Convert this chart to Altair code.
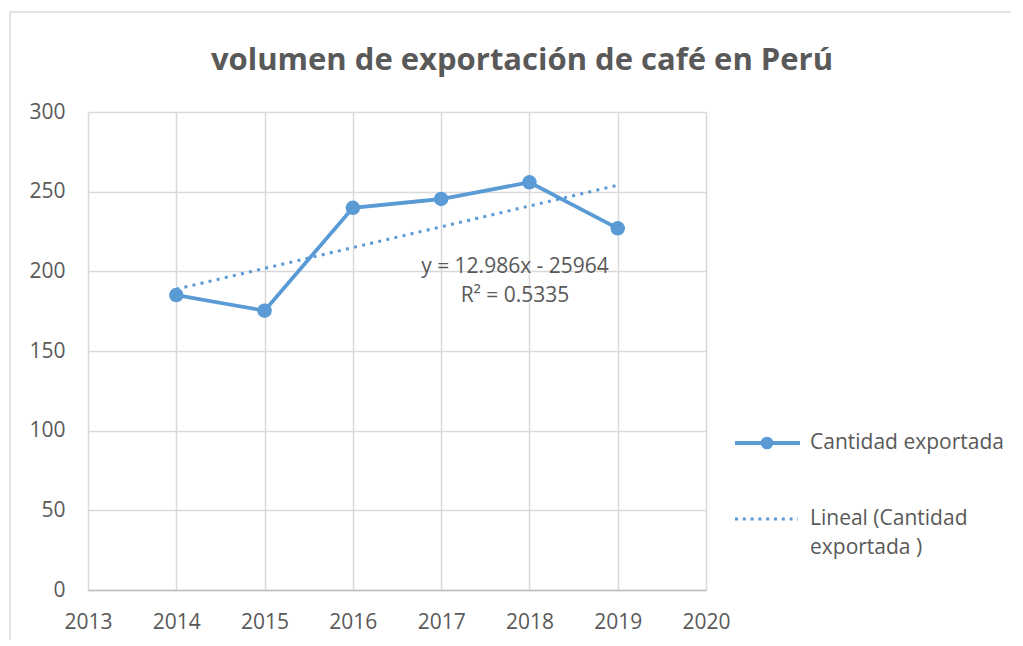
import altair as alt
import pandas as pd

# ---- data ----
years = [2014, 2015, 2016, 2017, 2018, 2019]
cantidad = [185.1, 175.3, 239.9, 245.4, 255.9, 227.0]
x_ticks = [2013, 2014, 2015, 2016, 2017, 2018, 2019, 2020]
y_ticks = [0, 50, 100, 150, 200, 250, 300]
title_text = "volumen de exportación de café en Perú"
series_name = "Cantidad exportada"
trend_label_lines = ["Lineal (Cantidad", "exportada )"]
equation_lines = ["y = 12.986x - 25964", "R² = 0.5335"]

BLUE = "#5B9BD5"
TEXT = "#595959"
GRID = "#D9D9D9"
FONT = "Open Sans"
FS = 21

df = pd.DataFrame({"year": years, "value": cantidad})
one = pd.DataFrame({"k": [0]})

x_scale = alt.Scale(domain=[2013, 2020], nice=False, zero=False)
y_scale = alt.Scale(domain=[0, 300], nice=False)

x_enc = alt.X("year:Q", scale=x_scale,
              axis=alt.Axis(values=x_ticks, format="d", title=None, ticks=False,
                            labelFlush=False, labelOverlap=False, labelPadding=21,
                            domainColor="#BFBFBF", domainWidth=1.5,
                            grid=True, gridColor=GRID, gridWidth=1.5))
y_enc = alt.Y("value:Q", scale=y_scale,
              axis=alt.Axis(values=y_ticks, title=None, ticks=False, domain=False,
                            labelPadding=23, grid=True, gridColor=GRID, gridWidth=1.5))

base = alt.Chart(df)

frame = alt.Chart(one).mark_rect(fillOpacity=0, stroke=GRID, strokeWidth=1.5).encode(
    x=alt.value(-78), x2=alt.value(940), y=alt.value(-100), y2=alt.value(560))

title = alt.Chart(one).mark_text(align="center", baseline="alphabetic", font=FONT,
                                 fontSize=31, fontWeight="bold", color=TEXT).encode(
    x=alt.value(434), y=alt.value(-42), text=alt.value(title_text))

trend = base.transform_regression("year", "value", extent=[2014, 2019]).mark_line(
    color=BLUE, strokeWidth=3, strokeDash=[3, 5.3]).encode(x=x_enc, y=y_enc)

line = base.mark_line(color=BLUE, strokeWidth=3.8).encode(x=x_enc, y=y_enc)
points = base.mark_circle(color=BLUE, size=210, opacity=1).encode(x="year:Q", y="value:Q")

txt_props = dict(font=FONT, fontSize=FS, color=TEXT)

eq_layers = []
for i, s in enumerate(equation_lines):
    eq_layers.append(alt.Chart(one).mark_text(align="center", baseline="middle", **txt_props).encode(
        x=alt.value(427), y=alt.value(155 + 29 * i), text=alt.value(s)))

leg_line1 = alt.Chart(one).mark_rule(color=BLUE, strokeWidth=3.8).encode(
    x=alt.value(647), x2=alt.value(712), y=alt.value(331))
leg_pt1 = alt.Chart(one).mark_circle(color=BLUE, size=160, opacity=1).encode(
    x=alt.value(679), y=alt.value(331))
leg_txt1 = alt.Chart(one).mark_text(align="left", baseline="middle", **txt_props).encode(
    x=alt.value(722), y=alt.value(331), text=alt.value(series_name))
leg_line2 = alt.Chart(one).mark_rule(color=BLUE, strokeWidth=3, strokeDash=[3, 4.8]).encode(
    x=alt.value(647), x2=alt.value(710), y=alt.value(407))
leg_txt2 = []
for i, s in enumerate(trend_label_lines):
    leg_txt2.append(alt.Chart(one).mark_text(align="left", baseline="middle", **txt_props).encode(
        x=alt.value(722), y=alt.value(407 + 29 * i), text=alt.value(s)))

chart = alt.layer(
    frame, title, trend, line, points, *eq_layers,
    leg_line1, leg_pt1, leg_txt1, leg_line2, *leg_txt2
).properties(
    width=618, height=478,
    autosize=alt.AutoSizeParams(type="none"),
    padding={"left": 80, "top": 104, "right": 305, "bottom": 50},
).configure_view(strokeWidth=0).configure_axis(
    labelFont=FONT, labelFontSize=FS, labelColor=TEXT
)

chart.save("out.html", embed_options={"renderer": "svg", "actions": False})
